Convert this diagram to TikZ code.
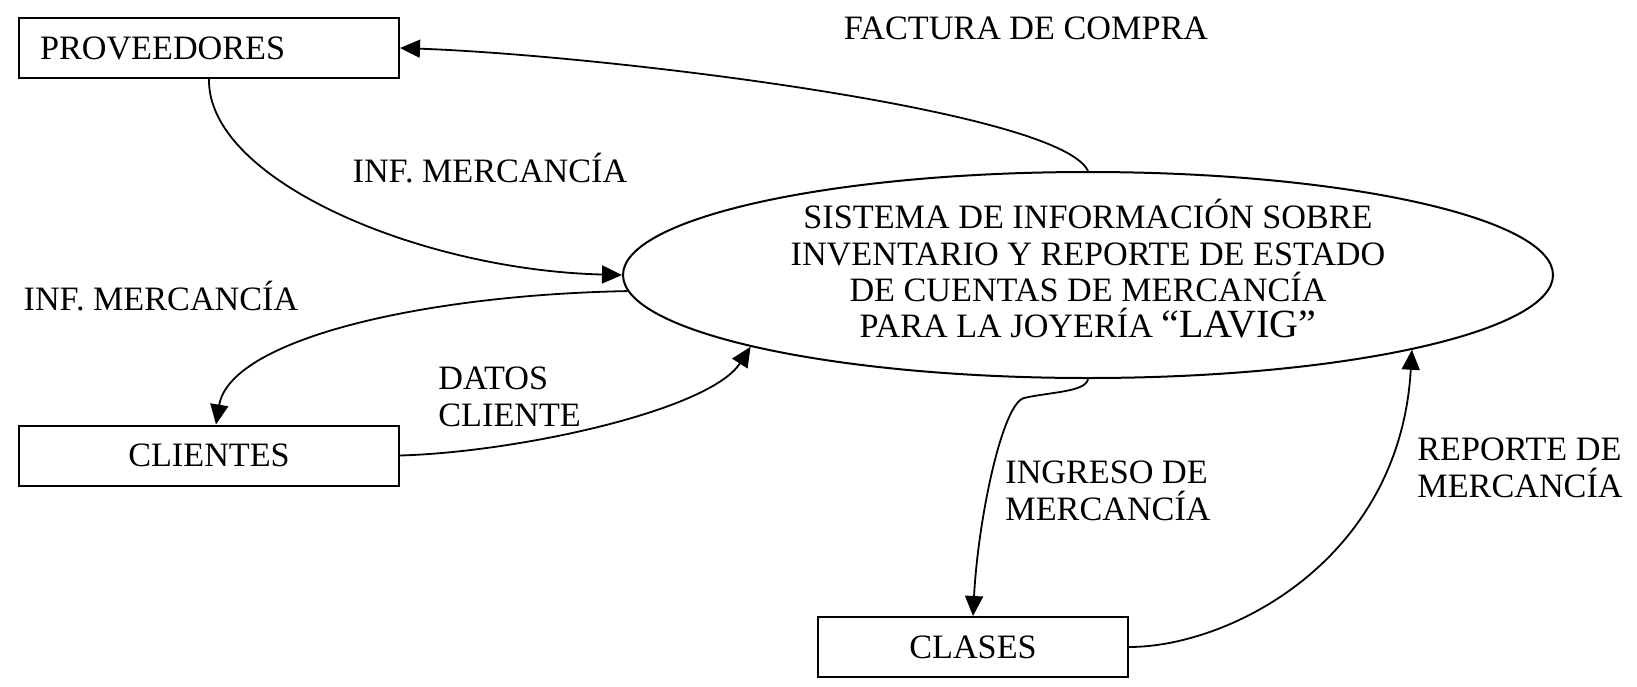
\documentclass[tikz,border=0pt]{standalone}
\usepackage{fontspec}
\setmainfont{Liberation Serif}
\usetikzlibrary{arrows.meta,shapes.geometric}
\tikzset{
  box/.style={draw, line width=1pt, rectangle, minimum width=190pt, minimum height=30pt, inner sep=0pt},
  flow/.style={line width=0.9pt, -{Triangle[length=10pt,width=9pt]}},
  lbl/.style={inner sep=0pt},
  procnode/.style={draw, ellipse, line width=1pt, minimum width=465pt, minimum height=103pt, inner sep=0pt}
}
\begin{document}
\begin{tikzpicture}[x=0.5pt,y=-0.5pt, font=\fontsize{17.1}{18.5}\selectfont]
\useasboundingbox (0,0) rectangle (1637,686);
\node[box, text width=169pt, inner xsep=10.5pt, align=left] (prov) at (209,48) {PROVEEDORES};
\node[box] (cli) at (209,455.5) {CLIENTES};
\node[box, minimum width=155pt] (cla) at (973,647) {CLASES};
\node[procnode, label={[lbl, align=center, yshift=3.1pt, font=\fontsize{17.1}{18.1}\selectfont]center:{SISTEMA DE INFORMACIÓN SOBRE\\INVENTARIO Y REPORTE DE ESTADO\\DE CUENTAS DE MERCANCÍA\\PARA LA JOYERÍA {\fontsize{20}{18.1}\selectfont “LAVIG”}}}] (sys) at (1088,275) {};

\node[lbl, anchor=base] (lfac) at (1026,39) {FACTURA DE COMPRA};
\node[lbl, anchor=base] (linf1) at (490,182) {INF. MERCANCÍA};
\node[lbl, anchor=base] (linf2) at (161,310) {INF. MERCANCÍA};
\node[lbl, anchor=west, align=left] (ldat) at (438,397) {DATOS\\CLIENTE};
\node[lbl, anchor=west, align=left] (ling) at (1005,490.5) {INGRESO DE\\MERCANCÍA};
\node[lbl, anchor=west, align=left] (lrep) at (1417,467.5) {REPORTE DE\\MERCANCÍA};

\draw[flow] (sys.north) .. controls (1060,110) and (600,55) .. (prov.east);
\draw[flow] (prov.south) .. controls (207,180) and (420,270) .. (sys.west);
\draw[flow] (sys.182.5) .. controls (420,295) and (230,340) .. ([xshift=3.5pt]cli.north);
\draw[flow] (cli.east) .. controls (520,452) and (710,410) .. (sys.192.9);
\draw[flow] (sys.south) .. controls (1086,392) and (1050,392) .. (1024,398) .. controls (1002,404) and (978,520) .. (cla.north);
\draw[flow] (cla.east) .. controls (1230,647) and (1400,560) .. (sys.347.5);
\end{tikzpicture}
\end{document}
